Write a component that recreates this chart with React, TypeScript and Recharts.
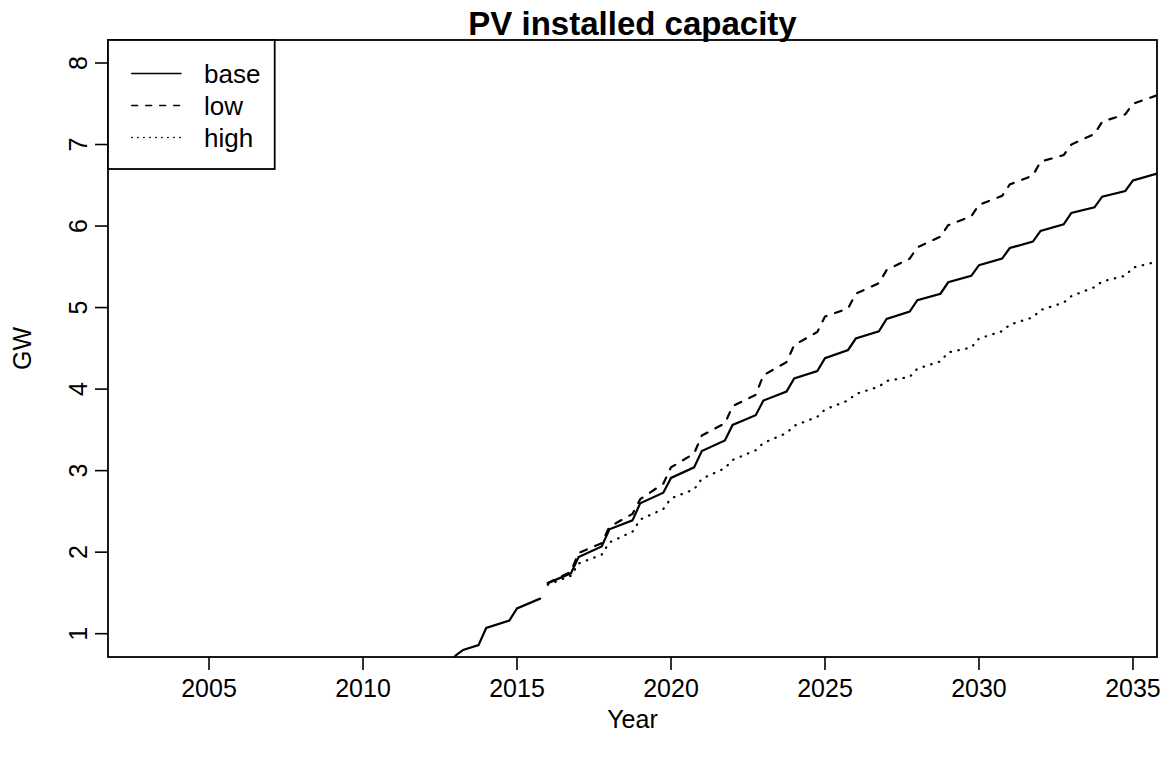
import React from "react"
import { LineChart, Line, XAxis, YAxis } from "recharts"

// historical base capacity (quarterly, GW)
const histQuarters = [2012.75, 2013, 2013.25, 2013.75, 2014, 2014.75, 2015, 2015.75]
const histBase = [0.55, 0.73, 0.8, 0.86, 1.07, 1.16, 1.31, 1.43]

// scenario years: value at Q1 (after the yearly step) and at Q4
const years = [
    2016, 2017, 2018, 2019, 2020, 2021, 2022, 2023, 2024, 2025,
    2026, 2027, 2028, 2029, 2030, 2031, 2032, 2033, 2034, 2035,
]
const baseStart = [1.62, 1.94, 2.28, 2.6, 2.91, 3.24, 3.56, 3.86, 4.13, 4.38, 4.62, 4.86, 5.09, 5.31, 5.52, 5.73, 5.94, 6.16, 6.36, 6.56]
const baseEnd = [1.74, 2.07, 2.39, 2.73, 3.04, 3.37, 3.68, 3.97, 4.22, 4.48, 4.71, 4.95, 5.17, 5.39, 5.6, 5.81, 6.02, 6.23, 6.43, 6.64]
const lowStart = [1.62, 1.99, 2.31, 2.65, 3.04, 3.43, 3.79, 4.17, 4.54, 4.89, 5.17, 5.46, 5.74, 6.01, 6.26, 6.51, 6.79, 7.0, 7.28, 7.5]
const lowEnd = [1.76, 2.11, 2.47, 2.84, 3.21, 3.58, 3.93, 4.33, 4.7, 4.99, 5.3, 5.6, 5.87, 6.12, 6.37, 6.62, 6.87, 7.13, 7.37, 7.6]
const highStart = [1.6, 1.86, 2.12, 2.4, 2.66, 2.9, 3.13, 3.34, 3.55, 3.75, 3.94, 4.1, 4.25, 4.45, 4.62, 4.79, 4.97, 5.14, 5.32, 5.49]
const highEnd = [1.71, 1.97, 2.25, 2.53, 2.77, 3.03, 3.25, 3.46, 3.66, 3.86, 4.03, 4.15, 4.34, 4.51, 4.71, 4.88, 5.06, 5.25, 5.39, 5.56]

const xTicks = [2005, 2010, 2015, 2020, 2025, 2030, 2035]
const yTicks = [1, 2, 3, 4, 5, 6, 7, 8]

const legendItems = [
    { name: "base", dash: undefined },
    { name: "low", dash: "6 8" },
    { name: "high", dash: "0.5 5.5" },
]

const FONT = "'Liberation Sans', Arial, Helvetica, sans-serif"
const W = 1170
const H = 757
const PLOT = { left: 108, top: 40, right: 1157, bottom: 657 }

const toPoints = (start: number[], end: number[]) =>
    years.flatMap((yr, i) => [
        { x: yr, y: start[i] },
        { x: yr + 0.75, y: end[i] },
    ])

const histData = histQuarters.map((q, i) => ({ x: q, y: histBase[i] }))
const baseData = toPoints(baseStart, baseEnd)
const lowData = toPoints(lowStart, lowEnd)
const highData = toPoints(highStart, highEnd)

const XTick = (props: any) => (
    <text x={props.x} y={697} textAnchor="middle" fontSize={25} fontFamily={FONT} fill="#000">
        {props.payload.value}
    </text>
)

const YTick = (props: any) => (
    <text
        x={87}
        y={props.y}
        transform={`rotate(-90 87 ${props.y})`}
        textAnchor="middle"
        fontSize={25}
        fontFamily={FONT}
        fill="#000"
    >
        {props.payload.value}
    </text>
)

export default function App() {
    const midX = (PLOT.left + PLOT.right) / 2
    const midY = (PLOT.top + PLOT.bottom) / 2
    return (
        <div style={{ position: "absolute", left: 0, top: 0, width: W, height: H, background: "#fff" }}>
            <LineChart
                width={W}
                height={H}
                margin={{ top: PLOT.top, right: W - PLOT.right, bottom: 0, left: 0 }}
            >
                <XAxis
                    type="number"
                    dataKey="x"
                    domain={[2001.72, 2035.78]}
                    allowDataOverflow
                    ticks={xTicks}
                    height={H - PLOT.bottom}
                    tickSize={13}
                    axisLine={false}
                    tickLine={{ stroke: "#000", strokeWidth: 1.6 }}
                    tick={XTick}
                />
                <YAxis
                    type="number"
                    dataKey="y"
                    domain={[0.714, 8.282]}
                    allowDataOverflow
                    ticks={yTicks}
                    width={PLOT.left}
                    tickSize={13}
                    axisLine={false}
                    tickLine={{ stroke: "#000", strokeWidth: 1.6 }}
                    tick={YTick}
                />
                <Line data={histData} dataKey="y" type="linear" stroke="#000" strokeWidth={2.2}
                    dot={false} isAnimationActive={false} strokeLinecap="round" />
                <Line data={baseData} dataKey="y" type="linear" stroke="#000" strokeWidth={2.2}
                    dot={false} isAnimationActive={false} strokeLinecap="round" />
                <Line data={lowData} dataKey="y" type="linear" stroke="#000" strokeWidth={2.2}
                    strokeDasharray="7 9" dot={false} isAnimationActive={false} strokeLinecap="round" />
                <Line data={highData} dataKey="y" type="linear" stroke="#000" strokeWidth={2.2}
                    strokeDasharray="0.5 7.5" dot={false} isAnimationActive={false} strokeLinecap="round" />
            </LineChart>

            <svg
                width={W}
                height={H}
                style={{ position: "absolute", left: 0, top: 0, pointerEvents: "none" }}
                fontFamily={FONT}
            >
                <rect
                    x={PLOT.left}
                    y={PLOT.top}
                    width={PLOT.right - PLOT.left}
                    height={PLOT.bottom - PLOT.top}
                    fill="none"
                    stroke="#000"
                    strokeWidth={1.8}
                />
                <text x={midX} y={35} textAnchor="middle" fontSize={33} fontWeight="bold">
                    PV installed capacity
                </text>
                <text x={midX} y={728} textAnchor="middle" fontSize={25}>
                    Year
                </text>
                <text x={31} y={midY} transform={`rotate(-90 31 ${midY})`} textAnchor="middle" fontSize={25}>
                    GW
                </text>

                <rect x={PLOT.left} y={PLOT.top} width={166.7} height={129} fill="#fff" stroke="#000" strokeWidth={1.8} />
                {legendItems.map((it, i) => {
                    const ly = 73.5 + i * 32
                    return (
                        <g key={it.name}>
                            <line x1={131.7} x2={181} y1={ly} y2={ly} stroke="#000" strokeWidth={1.4}
                                strokeDasharray={it.dash} strokeLinecap="round" />
                            <text x={204} y={ly + 9} fontSize={26}>
                                {it.name}
                            </text>
                        </g>
                    )
                })}
            </svg>
        </div>
    )
}
